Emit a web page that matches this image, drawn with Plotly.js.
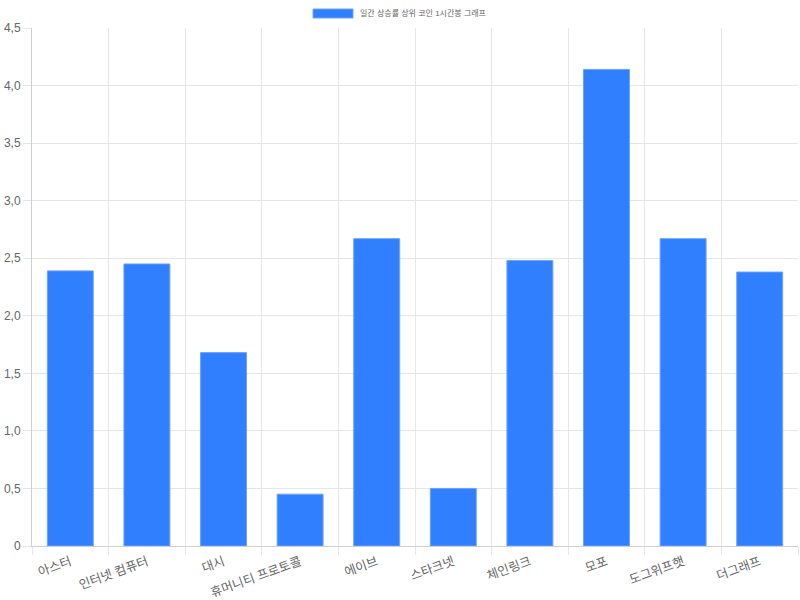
<!DOCTYPE html>
<html>
<head>
<meta charset="utf-8">
<script src="https://cdn.plot.ly/plotly-3.0.1.min.js"></script>
<style>html,body{margin:0;padding:0;background:#fff;}#chart{width:800px;height:600px;}</style>
</head>
<body>
<div id="chart"></div>
<script>
const seriesName = "일간 상승률 상위 코인 1시간봉 그래프";
const categories = ["아스터", "인터넷 컴퓨터", "대시", "휴머니티 프로토콜", "에이브", "스타크넷", "체인링크", "모포", "도그위프햇", "더그래프"];
const values = [2.39, 2.45, 1.68, 0.45, 2.67, 0.50, 2.48, 4.14, 2.67, 2.38];
const yTicks = [0, 0.5, 1, 1.5, 2, 2.5, 3, 3.5, 4, 4.5];
const yTickLabels = ["0", "0,5", "1,0", "1,5", "2,0", "2,5", "3,0", "3,5", "4,0", "4,5"];

const FONT = '"Liberation Sans", "Noto Sans CJK KR", sans-serif';
const barColor = '#2f7fff';
const gridColor = '#e6e6e6';

const trace = {
  type: 'bar',
  x: categories,
  y: values,
  name: seriesName,
  width: 0.6,
  marker: {color: barColor, line: {color: '#6ea2ff', width: 1}},
  hoverinfo: 'x+y'
};

const layout = {
  width: 800, height: 600,
  margin: {l: 32, r: 2, t: 28, b: 54},
  paper_bgcolor: '#fff', plot_bgcolor: '#fff',
  separators: ',.',
  showlegend: false,
  font: {family: FONT, size: 12, color: '#666'},
  xaxis: {
    type: 'category',
    tickson: 'boundaries',
    ticks: 'outside', ticklen: 8, tickcolor: gridColor,
    showgrid: true, gridcolor: gridColor, gridwidth: 1,
    showline: true, linecolor: '#cfcfcf', linewidth: 1,
    tickangle: -20,
    ticklabelstandoff: 3,
    tickfont: {family: FONT, size: 12.5, color: '#666'},
    range: [-0.5, categories.length - 0.5],
    fixedrange: true
  },
  yaxis: {
    range: [0, 4.5],
    tickvals: yTicks,
    ticktext: yTickLabels,
    ticks: 'outside', ticklen: 8, tickcolor: gridColor,
    showgrid: true, gridcolor: gridColor, gridwidth: 1,
    showline: true, linecolor: '#cfcfcf', linewidth: 1,
    zeroline: false,
    tickfont: {family: FONT, size: 12, color: '#666'},
    fixedrange: true
  },
  shapes: [{
    type: 'rect', xref: 'paper', yref: 'paper',
    x0: (313 - 32) / 766, x1: (353 - 32) / 766,
    y0: (546 - 18) / 518, y1: (546 - 9) / 518,
    fillcolor: barColor, line: {color: '#6ea2ff', width: 1}
  }],
  annotations: [{
    xref: 'paper', yref: 'paper',
    x: (358 - 32) / 766, y: (546 - 13.5) / 518,
    xanchor: 'left', yanchor: 'middle',
    text: seriesName, showarrow: false,
    font: {family: FONT, size: 8, color: '#666'}
  }]
};

Plotly.newPlot('chart', [trace], layout, {displayModeBar: false, staticPlot: true});
</script>
</body>
</html>
